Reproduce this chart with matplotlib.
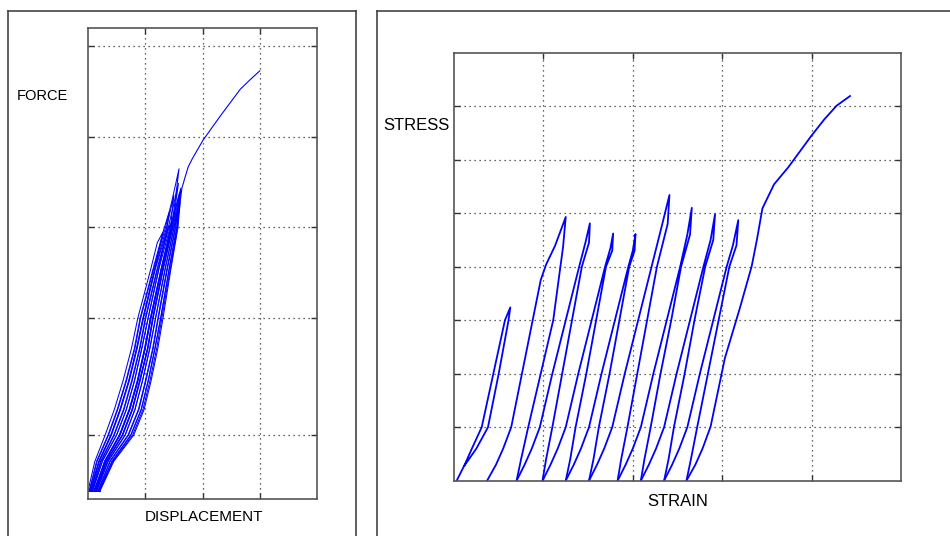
import matplotlib.pyplot as plt
from matplotlib.lines import Line2D

plt.rcParams["font.family"] = ["Liberation Sans", "DejaVu Sans"]

# ---- left panel: force vs displacement, repeated loading cycles ----
# force levels at which the branches were read off
force_levels = [0.17, 0.8, 1.36, 1.9, 2.5, 3.2, 3.84, 4.9, 5.75]
# (loading x, tip x, tip y, unloading x read bottom->top)
cycles_left = [
    ([0.04, 0.19, 0.40, 0.56, 0.71, 0.85, 0.96, 1.17], [1.31, 1.21], [5.67, 5.44],
     [0.00, 0.12, 0.30, 0.46, 0.61, 0.76, 0.87, 1.10]),
    ([0.08, 0.25, 0.50, 0.67, 0.81, 0.94, 1.05, 1.24, 1.38], [1.42], [6.1],
     [0.02, 0.15, 0.35, 0.51, 0.66, 0.81, 0.91, 1.14, 1.33]),
    ([0.11, 0.29, 0.55, 0.72, 0.86, 0.99, 1.09, 1.28, 1.44], [1.50], [6.45],
     [0.04, 0.19, 0.40, 0.56, 0.71, 0.85, 0.96, 1.17, 1.37]),
    ([0.10, 0.30, 0.56, 0.73, 0.87, 1.00, 1.10, 1.29, 1.46], [1.54, 1.59, 1.46], [6.5, 7.01, 6.3],
     [0.03, 0.16, 0.36, 0.52, 0.67, 0.82, 0.92, 1.15, 1.35]),
    ([0.13, 0.32, 0.60, 0.77, 0.90, 1.04, 1.13, 1.31, 1.47], [1.58], [6.7],
     [0.06, 0.22, 0.45, 0.62, 0.76, 0.90, 1.00, 1.21, 1.40]),
    ([0.17, 0.38, 0.70, 0.88, 1.00, 1.13, 1.22, 1.38, 1.52], [1.60], [6.5],
     [0.08, 0.25, 0.50, 0.67, 0.81, 0.94, 1.05, 1.24, 1.43]),
    ([0.19, 0.42, 0.75, 0.93, 1.05, 1.17, 1.27, 1.42, 1.55], [1.62], [6.6],
     [0.11, 0.29, 0.55, 0.72, 0.86, 0.99, 1.09, 1.28, 1.45]),
    ([0.21, 0.45, 0.80, 0.98, 1.10, 1.22, 1.31, 1.45, 1.57], [1.61], [6.3],
     [0.13, 0.32, 0.60, 0.77, 0.90, 1.04, 1.13, 1.31, 1.47]),
    ([0.15, 0.35, 0.65, 0.82, 0.95, 1.08, 1.18, 1.35, 1.50], [1.60], [6.2],
     [0.07, 0.23, 0.46, 0.63, 0.77, 0.91, 1.01, 1.22, 1.41]),
    ([0.14, 0.33, 0.61, 0.78, 0.91, 1.05, 1.14, 1.32, 1.48], [1.56], [6.0],
     [0.05, 0.20, 0.41, 0.57, 0.72, 0.86, 0.97, 1.18, 1.39]),
    ([0.18, 0.39, 0.71, 0.89, 1.01, 1.14, 1.23, 1.39, 1.53], [1.61], [6.45],
     [0.12, 0.30, 0.56, 0.73, 0.87, 1.00, 1.10, 1.29, 1.46]),
    ([0.20, 0.44, 0.78, 0.96, 1.08, 1.20, 1.29, 1.44, 1.56], [1.62], [6.55],
     [0.15, 0.35, 0.65, 0.82, 0.95, 1.08, 1.18, 1.35, 1.50]),
]
base_x = [0.0, 0.21]
base_y = [0.17, 0.17]
# last loading up to the end of the test
final_left_x = [0.19, 0.42, 0.75, 0.93, 1.05, 1.17, 1.27, 1.42, 1.55,
                1.64, 1.70, 1.75, 1.82, 2.01, 2.31, 2.66, 2.83, 3.00]
final_left_y = force_levels + [6.6, 6.85, 7.05, 7.22, 7.62, 8.13, 8.70, 8.90, 9.09]
left_yticks = [1.36, 3.84, 5.77, 7.69, 9.62]

# ---- right panel: stress vs strain ----
# each cycle: reloading from the bottom up to the peak, then unloading back down
cycles_right = [
    ([0.03, 0.12, 0.20, 0.31, 0.44, 0.57, 0.63], [0.0, 0.3, 0.6, 1.0, 2.0, 3.0, 3.24],
     [0.63, 0.61, 0.50, 0.38, 0.25, 0.12], [3.24, 3.0, 2.0, 1.0, 0.6, 0.29]),
    ([0.37, 0.47, 0.55, 0.64, 0.76, 0.88, 0.97, 1.03, 1.13, 1.25],
     [0.0, 0.3, 0.6, 1.0, 2.0, 3.0, 3.75, 4.04, 4.39, 4.93],
     [1.25, 1.22, 1.17, 1.11, 0.97, 0.83, 0.75, 0.70],
     [4.93, 4.37, 3.75, 3.0, 2.0, 1.0, 0.4, 0.0]),
    ([0.70, 0.79, 0.87, 0.96, 1.10, 1.25, 1.40, 1.47, 1.52],
     [0.0, 0.3, 0.6, 1.0, 2.0, 3.0, 4.0, 4.45, 4.81],
     [1.52, 1.51, 1.43, 1.32, 1.21, 1.10, 1.03, 0.99],
     [4.81, 4.45, 4.0, 3.0, 2.0, 1.0, 0.4, 0.0]),
    ([0.99, 1.08, 1.16, 1.25, 1.39, 1.54, 1.69, 1.75, 1.78],
     [0.0, 0.3, 0.6, 1.0, 2.0, 3.0, 4.0, 4.35, 4.62],
     [1.78, 1.77, 1.70, 1.59, 1.48, 1.36, 1.30, 1.25],
     [4.62, 4.3, 4.0, 3.0, 2.0, 1.0, 0.4, 0.0]),
    ([1.25, 1.34, 1.42, 1.51, 1.65, 1.80, 1.95, 2.00, 2.03],
     [0.0, 0.3, 0.6, 1.0, 2.0, 3.0, 4.0, 4.3, 4.61],
     [2.03, 2.02, 1.96, 1.85, 1.74, 1.62, 1.56, 1.51],
     [4.61, 4.3, 4.0, 3.0, 2.0, 1.0, 0.4, 0.0]),
    ([1.51, 1.60, 1.68, 1.77, 1.91, 2.06, 2.21, 2.33, 2.41],
     [0.0, 0.3, 0.6, 1.0, 2.0, 3.0, 4.0, 4.8, 5.34],
     [2.41, 2.39, 2.27, 2.16, 2.05, 1.94, 1.87, 1.83],
     [5.34, 4.8, 4.0, 3.0, 2.0, 1.0, 0.4, 0.0]),
    ([1.83, 1.92, 2.00, 2.09, 2.23, 2.38, 2.53, 2.61, 2.66],
     [0.0, 0.3, 0.6, 1.0, 2.0, 3.0, 4.0, 4.6, 5.10],
     [2.66, 2.64, 2.54, 2.43, 2.31, 2.20, 2.13, 2.09],
     [5.10, 4.6, 4.0, 3.0, 2.0, 1.0, 0.4, 0.0]),
    ([2.09, 2.18, 2.26, 2.35, 2.49, 2.64, 2.79, 2.87, 2.92],
     [0.0, 0.3, 0.6, 1.0, 2.0, 3.0, 4.0, 4.5, 4.98],
     [2.92, 2.90, 2.81, 2.69, 2.58, 2.46, 2.40, 2.35],
     [4.98, 4.5, 4.0, 3.0, 2.0, 1.0, 0.4, 0.0]),
    ([2.35, 2.44, 2.52, 2.61, 2.75, 2.90, 3.05, 3.12, 3.18],
     [0.0, 0.3, 0.6, 1.0, 2.0, 3.0, 4.0, 4.4, 4.87],
     [3.18, 3.16, 3.08, 2.96, 2.84, 2.72, 2.65, 2.60],
     [4.87, 4.4, 4.0, 3.0, 2.0, 1.0, 0.4, 0.0]),
]
final_right_x = [2.60, 2.70, 2.78, 2.87, 3.03, 3.20, 3.33, 3.39, 3.45, 3.58, 3.74,
                 3.99, 4.14, 4.28, 4.43]
final_right_y = [0.0, 0.3, 0.6, 1.01, 2.29, 3.24, 4.01, 4.52, 5.09, 5.54, 5.86,
                 6.43, 6.75, 7.01, 7.19]

BLUE = "#0000ff"
W, H = 950, 536

fig = plt.figure(figsize=(9.5, 5.36), dpi=100)


def px_ax(x0, y0, x1, y1):
    # axes rectangle given in picture pixels (top-left origin)
    return fig.add_axes([x0 / W, 1 - y1 / H, (x1 - x0) / W, (y1 - y0) / H])


def style(ax):
    ax.grid(True, linestyle=(0, (1, 3)), color="#333333", linewidth=0.9)
    ax.tick_params(direction="in", length=4, width=1, color="#333333",
                   top=True, right=True, labelbottom=False, labelleft=False)
    for s in ax.spines.values():
        s.set_color("#555555")
        s.set_linewidth(1.2)


ax1 = px_ax(88, 28, 317, 499)
for up_x, tip_x, tip_y, down_x in cycles_left:
    n = len(up_x)
    xs = up_x + tip_x + down_x[::-1]
    ys = force_levels[:n] + tip_y + force_levels[:n][::-1]
    ax1.plot(xs, ys, color=BLUE, linewidth=0.75)
ax1.plot(base_x, base_y, color=BLUE, linewidth=0.75)
ax1.plot(final_left_x, final_left_y, color=BLUE, linewidth=0.8)
ax1.set_xlim(0, 4)
ax1.set_ylim(0, 10)
ax1.set_xticks([1, 2, 3])
ax1.set_yticks(left_yticks)
style(ax1)

ax2 = px_ax(454, 52.7, 901, 480.7)
for lx, ly, ux, uy in cycles_right:
    ax2.plot(lx + ux, ly + uy, color=BLUE, linewidth=1.3)
ax2.plot(final_right_x, final_right_y, color=BLUE, linewidth=1.3)
ax2.set_xlim(0, 5)
ax2.set_ylim(0, 8)
ax2.set_xticks([1, 2, 3, 4])
ax2.set_yticks([1, 2, 3, 4, 5, 6, 7])
style(ax2)

fig.text(16.7 / W, 1 - 96 / H, "FORCE", fontsize=10.5, ha="left", va="center")
fig.text(204.5 / W, 1 - 517 / H, "DISPLACEMENT", fontsize=11, ha="center", va="center")
fig.text(383 / W, 1 - 126 / H, "STRESS", fontsize=12, ha="left", va="center")
fig.text(677.5 / W, 1 - 501.7 / H, "STRAIN", fontsize=12, ha="center", va="center")

# panel frames
frame = dict(color="#444444", linewidth=1.2, transform=fig.transFigure)
for xs, ys in [([7.5, 7.5], [536, 10.5]), ([7.5, 356], [10.5, 10.5]),
               ([356, 356], [10.5, 536]), ([376.5, 376.5], [536, 10.5]),
               ([376.5, 950], [10.5, 10.5])]:
    fig.add_artist(Line2D([x / W for x in xs], [1 - y / H for y in ys], **frame))

fig.savefig("out.png", dpi=100)
